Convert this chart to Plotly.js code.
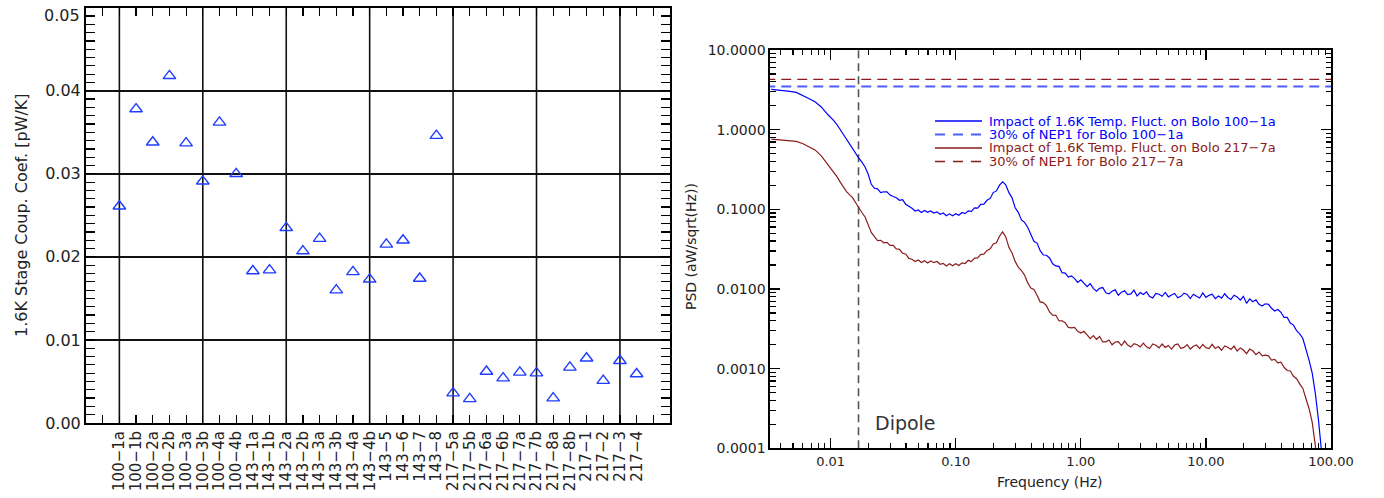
<!DOCTYPE html>
<html>
<head>
<meta charset="utf-8">
<script src="https://cdn.plot.ly/plotly-3.0.1.min.js"></script>
<style>
html,body{margin:0;padding:0;background:#fff;}
#chart{width:1384px;height:498px;}
</style>
</head>
<body>
<div id="chart"></div>
<script>
// ---------------- Left panel data ----------------
const bolometers = ['100−1a','100−1b','100−2a','100−2b','100−3a','100−3b','100−4a','100−4b',
  '143−1a','143−1b','143−2a','143−2b','143−3a','143−3b','143−4a','143−4b','143−5','143−6','143−7','143−8',
  '217−5a','217−5b','217−6a','217−6b','217−7a','217−7b','217−8a','217−8b','217−1','217−2','217−3','217−4'];
const couplingCoef = [0.0261,0.0378,0.0338,0.0418,0.0337,0.0291,0.0362,0.0300,
  0.0183,0.0184,0.0235,0.0207,0.0222,0.0160,0.0182,0.0173,0.0215,0.0220,0.0174,0.0346,
  0.0036,0.0029,0.0062,0.0054,0.0061,0.0060,0.0030,0.0067,0.0078,0.0051,0.0075,0.0059];
const leftYTicks = [0,0.01,0.02,0.03,0.04,0.05];
const leftYTickText = ['0.00','0.01','0.02','0.03','0.04',''];
const leftYTopLabel = '0.05';

// ---------------- Right panel data ----------------
const freqHz = [0.00335,0.003758,0.004217,0.004732,0.005309,0.005957,0.006683,0.007499,0.008414,0.009441,
  0.01,0.01059,0.01122,0.01189,0.01259,0.01334,0.01413,0.01496,0.01585,0.01679,
  0.01778,0.01884,0.01995,0.02113,0.02239,0.02371,0.02512,0.02661,0.02818,0.02985,
  0.03162,0.0335,0.03548,0.03758,0.03981,0.04217,0.04467,0.04732,0.05012,0.05309,
  0.05623,0.05957,0.0631,0.06683,0.07079,0.07499,0.07943,0.08414,0.08913,0.09441,
  0.1,0.1059,0.1122,0.1189,0.1259,0.1334,0.1413,0.1496,0.1585,0.1679,
  0.1778,0.1884,0.1995,0.2113,0.2239,0.2371,0.2512,0.2661,0.2818,0.2985,
  0.3162,0.335,0.3548,0.3758,0.3981,0.4217,0.4467,0.4732,0.5012,0.5309,
  0.5623,0.5957,0.631,0.6683,0.7079,0.7499,0.7943,0.8414,0.8913,0.9441,
  1,1.059,1.122,1.189,1.259,1.334,1.413,1.496,1.585,1.679,
  1.778,1.884,1.995,2.113,2.239,2.371,2.512,2.661,2.818,2.985,
  3.162,3.35,3.548,3.758,3.981,4.217,4.467,4.732,5.012,5.309,
  5.623,5.957,6.31,6.683,7.079,7.499,7.943,8.414,8.913,9.441,
  10,10.59,11.22,11.89,12.59,13.34,14.13,14.96,15.85,16.79,
  17.78,18.84,19.95,21.13,22.39,23.71,25.12,26.61,28.18,29.85,
  31.62,33.5,35.48,37.58,39.81,42.17,44.67,47.32,50.12,53.09,
  56.23,59.57,63.1,66.83,70.79,74.99,79.43,84.14];

const psdBolo100_1a = [3.20,3.15,3.09,3.02,2.94,2.72,2.46,2.24,1.93,1.56,
  1.43,1.30,1.16,1.01,0.873,0.743,0.644,0.575,0.509,0.440,
  0.391,0.340,0.275,0.206,0.184,0.181,0.162,0.166,0.166,0.151,
  0.145,0.140,0.130,0.132,0.116,0.110,0.103,0.0953,0.0982,0.0910,
  0.0966,0.0916,0.0955,0.0897,0.0929,0.0865,0.0899,0.0830,0.0877,0.0828,
  0.0881,0.0843,0.0914,0.0883,0.0957,0.0942,0.104,0.1033,0.1156,0.1161,
  0.1297,0.1371,0.1622,0.1702,0.2009,0.2218,0.2028,0.1618,0.1393,0.1047,
  0.0916,0.0736,0.0686,0.0596,0.0475,0.0397,0.0377,0.0303,0.0267,0.0265,
  0.0245,0.0207,0.0195,0.0192,0.0160,0.01585,0.0141,0.0146,0.0135,0.0121,
  0.01306,0.01191,0.01067,0.01169,0.01019,0.00940,0.01019,0.01042,0.00897,0.00869,
  0.00938,0.00975,0.00836,0.00912,0.00948,0.00851,0.00867,0.00966,0.00818,0.00902,
  0.00855,0.00920,0.00805,0.00773,0.00881,0.00859,0.00809,0.00906,0.00796,0.00841,
  0.00879,0.00774,0.00809,0.00885,0.00853,0.00759,0.00859,0.00809,0.00771,0.00893,
  0.00785,0.00832,0.00859,0.00755,0.00817,0.00769,0.00871,0.00783,0.00740,0.00834,
  0.00791,0.00724,0.00809,0.00661,0.00753,0.00693,0.00731,0.00641,0.00611,0.00652,
  0.00641,0.00572,0.00528,0.00553,0.00508,0.00439,0.00440,0.00374,0.00352,0.00299,
  0.00273,0.00239,0.00178,0.00127,0.000879,0.000486,0.000226,0.0000891];

const psdBolo217_7a = [0.762,0.752,0.743,0.728,0.711,0.670,0.618,0.557,0.469,0.367,
  0.329,0.294,0.257,0.221,0.191,0.168,0.153,0.140,0.121,0.104,
  0.0912,0.0802,0.0644,0.0514,0.0453,0.0406,0.0409,0.0380,0.0384,0.0353,
  0.0353,0.0319,0.0315,0.0281,0.0275,0.0242,0.0236,0.0221,0.0231,0.0215,
  0.0226,0.0212,0.0225,0.0214,0.0221,0.0204,0.0209,0.0195,0.0208,0.0196,
  0.0207,0.0197,0.0213,0.0209,0.0229,0.0221,0.0244,0.0245,0.0272,0.0273,
  0.0305,0.0319,0.0367,0.0380,0.0459,0.0521,0.0450,0.0333,0.0283,0.0222,
  0.01884,0.01706,0.01493,0.01202,0.01028,0.00986,0.00834,0.00689,0.00675,0.00617,
  0.00514,0.00470,0.00467,0.00399,0.00398,0.00377,0.00329,0.00325,0.00330,0.00294,
  0.002805,0.002944,0.002661,0.002382,0.002594,0.002323,0.002535,0.002163,0.002173,0.002291,
  0.001995,0.002163,0.002188,0.001950,0.002218,0.001977,0.001866,0.002051,0.001995,0.001875,
  0.002094,0.001879,0.001786,0.002042,0.001963,0.001824,0.002037,0.001849,0.001954,0.001762,
  0.001977,0.002046,0.001803,0.001845,0.002000,0.001762,0.001910,0.001977,0.001782,0.002018,
  0.001832,0.001786,0.002018,0.001795,0.001892,0.001702,0.001923,0.001854,0.001742,0.001919,
  0.001667,0.001820,0.001714,0.001542,0.001762,0.001675,0.001500,0.001618,0.001449,0.001476,
  0.001449,0.001279,0.001309,0.001183,0.001208,0.001040,0.000948,0.000933,0.000802,0.000748,
  0.000643,0.000564,0.000419,0.000314,0.000212,0.000108,0.0000398,0.0000158];

const nep30Bolo100_1a = 3.47;
const nep30Bolo217_7a = 4.29;
const nepFreqSpan = [0.003, 100];
const dipoleFreq = 0.0167;
const psdSpan = [0.0001, 10];
const freqTicks = [0.01, 0.1, 1, 10, 100];
const freqTickText = ['0.01','0.10','1.00','10.00','100.00'];
const psdTicks = [0.0001, 0.001, 0.01, 0.1, 1, 10];
const psdTickText = ['0.0001','0.0010','0.0100','0.1000','1.0000','10.0000'];

const legendLabels = ['Impact of 1.6K Temp. Fluct. on Bolo 100−1a','30% of NEP1 for Bolo 100−1a',
  'Impact of 1.6K Temp. Fluct. on Bolo 217−7a','30% of NEP1 for Bolo 217−7a'];

// ---------------- Styling / layout ----------------
const W = 1384, H = 498;
const px = v => v / W;
const py = v => 1 - v / H;
const BLUE = '#0000ff', BLUE_DASH = '#4f5eff', BROWN = '#8b1c1c', TRI = '#1f3cff';
const FONT = 'DejaVu Sans, Verdana, sans-serif';

const idx = bolometers.map((_, i) => i);

// minor tick values (axis decoration only)
const logMinor = [];
for (let e = -5; e <= 2; e++) for (let m = 2; m <= 9; m++) logMinor.push(m * Math.pow(10, e));
const linMinorY = [];
for (let k = 1; k < 50; k++) if (k % 10 !== 0) linMinorY.push(k / 1000);
const linMinorX = [];
for (let k = -1; k <= 32; k++) linMinorX.push(k);

const traces = [
  {x: idx, y: couplingCoef, xaxis: 'x', yaxis: 'y', type: 'scatter', mode: 'markers',
   marker: {symbol: 'triangle-up-open', size: 11, color: TRI, line: {width: 1.4, color: TRI}},
   hoverinfo: 'skip', cliponaxis: false},
  {x: nepFreqSpan, y: [nep30Bolo217_7a, nep30Bolo217_7a], xaxis: 'x2', yaxis: 'y2', mode: 'lines',
   line: {color: BROWN, width: 1.3, dash: '10px,6px'}},
  {x: nepFreqSpan, y: [nep30Bolo100_1a, nep30Bolo100_1a], xaxis: 'x2', yaxis: 'y2', mode: 'lines',
   line: {color: BLUE_DASH, width: 2, dash: '10px,6px'}},
  {x: [dipoleFreq, dipoleFreq], y: psdSpan, xaxis: 'x2', yaxis: 'y2', mode: 'lines',
   line: {color: '#555555', width: 1.6, dash: '8px,5px'}},
  {x: freqHz, y: psdBolo217_7a, xaxis: 'x2', yaxis: 'y2', mode: 'lines',
   line: {color: BROWN, width: 1.2}},
  {x: freqHz, y: psdBolo100_1a, xaxis: 'x2', yaxis: 'y2', mode: 'lines',
   line: {color: BLUE, width: 1.2}}
];

const shapes = [];
// vertical grid lines every 5 bolometers (left panel)
for (let i = 0; i < bolometers.length; i += 5) {
  shapes.push({type: 'line', xref: 'x', yref: 'y domain', x0: i, x1: i, y0: 0, y1: 1,
    line: {color: '#111', width: 1.6}, layer: 'below'});
}
// legend samples
const legRows = [121, 134.5, 148, 161.5];
const legStyles = [
  {color: BLUE, width: 1.3, dash: 'solid'},
  {color: BLUE_DASH, width: 2, dash: '10px,8px'},
  {color: BROWN, width: 1.3, dash: 'solid'},
  {color: BROWN, width: 1.3, dash: '10px,8px'}
];
legRows.forEach((r, k) => {
  shapes.push({type: 'line', xref: 'paper', yref: 'paper', x0: px(935), x1: px(982), y0: py(r), y1: py(r),
    line: legStyles[k]});
});

const legColors = [BLUE, BLUE, BROWN, BROWN];
const annotations = legendLabels.map((t, k) => ({
  text: t, xref: 'paper', yref: 'paper', x: px(987), y: py(legRows[k]), xanchor: 'left', yanchor: 'middle',
  showarrow: false, font: {family: FONT, size: 13, color: legColors[k]}
}));
annotations.push(
  {text: leftYTopLabel, xref: 'paper', yref: 'paper', x: px(82), y: py(15), xanchor: 'right', yanchor: 'middle',
   showarrow: false, font: {family: FONT, size: 16, color: '#222'}},
  {text: '1.6K Stage Coup. Coef. [pW/K]', xref: 'paper', yref: 'paper', x: px(21), y: py(215),
   textangle: -90, showarrow: false, xanchor: 'center', yanchor: 'middle', font: {family: FONT, size: 16, color: '#222'}},
  {text: 'PSD (aW/sqrt(Hz))', xref: 'paper', yref: 'paper', x: px(691), y: py(247),
   textangle: -90, showarrow: false, xanchor: 'center', yanchor: 'middle', font: {family: FONT, size: 14, color: '#222'}},
  {text: 'Frequency (Hz)', xref: 'paper', yref: 'paper', x: px(1050), y: py(482),
   showarrow: false, xanchor: 'center', yanchor: 'middle', font: {family: FONT, size: 14, color: '#222'}},
  {text: 'Dipole', xref: 'x2', yref: 'y2', x: Math.log10(0.0218), y: Math.log10(0.000205),
   showarrow: false, xanchor: 'left', yanchor: 'middle', font: {family: FONT, size: 19, color: '#333'}}
);

const axCommon = {showline: true, linecolor: '#000', mirror: 'allticks', zeroline: false, tickcolor: '#000',
  ticks: 'inside', fixedrange: true, ticklabeloverflow: 'allow'};

const layout = {
  width: W, height: H, margin: {l: 0, r: 0, t: 0, b: 0}, showlegend: false,
  paper_bgcolor: '#fff', plot_bgcolor: '#fff',
  font: {family: FONT, color: '#222'},
  xaxis: Object.assign({}, axCommon, {
    domain: [px(86), px(670)], range: [-2, 33], anchor: 'y',
    tickmode: 'array', tickvals: idx, ticktext: bolometers, tickangle: -90,
    ticklen: 8, tickwidth: 1.2, linewidth: 2, showgrid: false,
    tickfont: {family: FONT, size: 15, color: '#222'},
    minor: {tickmode: 'array', tickvals: linMinorX, ticks: 'inside', ticklen: 8, tickwidth: 1.2, tickcolor: '#000', showgrid: false}
  }),
  yaxis: Object.assign({}, axCommon, {
    domain: [py(423), py(7.7)], range: [0, 0.050001], anchor: 'x',
    tickmode: 'array', tickvals: leftYTicks, ticktext: leftYTickText,
    ticklen: 9, tickwidth: 1.2, linewidth: 2, showgrid: true, gridcolor: '#111', gridwidth: 1.6,
    tickfont: {family: FONT, size: 16, color: '#222'},
    minor: {tickmode: 'array', tickvals: linMinorY, ticks: 'inside', ticklen: 9, tickwidth: 1.2, tickcolor: '#000', showgrid: false}
  }),
  xaxis2: Object.assign({}, axCommon, {
    domain: [px(770), px(1331)], type: 'log', range: [-2.485, 2.0001], anchor: 'y2',
    tickmode: 'array', tickvals: freqTicks, ticktext: freqTickText,
    ticklen: 10, tickwidth: 1.2, linewidth: 1.6, showgrid: false,
    tickfont: {family: FONT, size: 13, color: '#222'},
    minor: {tickmode: 'array', tickvals: logMinor, ticks: 'inside', ticklen: 5, tickwidth: 1.1, tickcolor: '#000', showgrid: false}
  }),
  yaxis2: Object.assign({}, axCommon, {
    domain: [py(448.3), py(50)], type: 'log', range: [-4.0001, 1.0001], anchor: 'x2',
    tickmode: 'array', tickvals: psdTicks, ticktext: psdTickText,
    ticklen: 10, tickwidth: 1.2, linewidth: 1.6, showgrid: false,
    tickfont: {family: FONT, size: 14, color: '#222'},
    minor: {tickmode: 'array', tickvals: logMinor, ticks: 'inside', ticklen: 5.5, tickwidth: 1.1, tickcolor: '#000', showgrid: false}
  }),
  shapes: shapes,
  annotations: annotations
};

Plotly.newPlot('chart', traces, layout, {displayModeBar: false, staticPlot: true});
</script>
</body>
</html>
